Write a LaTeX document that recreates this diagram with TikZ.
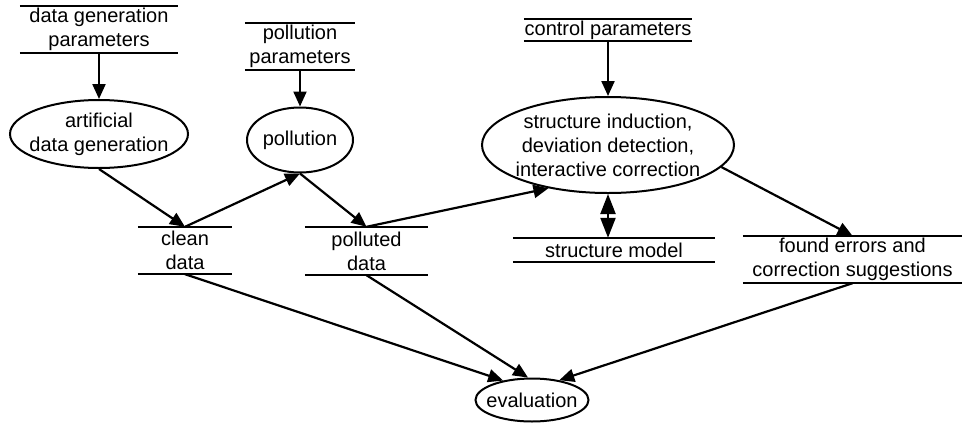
\documentclass[tikz,border=0pt]{standalone}
\usepackage{fontspec}
\setmainfont{Liberation Sans}
\usetikzlibrary{shapes.geometric,arrows.meta}

\begin{document}
\begin{tikzpicture}[x = 1pt, y = -1pt,
    font = \fontsize{20}{24}\selectfont,
    store/.style = {align = center, inner sep = 0pt},
    proc/.style  = {draw, ellipse, line width = 2pt, align = center, inner xsep = -10pt, inner ysep = -4pt},
    flow/.style  = {line width = 2.2pt, -{Triangle[length = 15pt, width = 13pt]}}]

    \useasboundingbox (0, 0) rectangle (963, 426);

    % data stores
    \node [store, minimum width = 158, minimum height = 47] (genpar)   at (99, 29.5)   {data generation\\parameters};
    \node [store, minimum width = 110, minimum height = 47] (polpar)   at (300, 46.5)  {pollution\\parameters};
    \node [store, minimum width = 168, minimum height = 22] (ctrlpar)  at (608, 30)    {control parameters};
    \node [store, minimum width = 94,  minimum height = 47] (clean)    at (185, 250.5) {clean\\data};
    \node [store, minimum width = 123, minimum height = 48] (polluted) at (366.5, 251) {polluted\\data};
    \node [store, minimum width = 202, minimum height = 24] (struct)   at (614, 250)   {structure model};
    \node [store, minimum width = 219, minimum height = 47] (found)    at (852.5, 259.5) {found errors and\\correction suggestions};

    \foreach \n in {genpar, polpar, ctrlpar, clean, polluted, struct, found}
        \draw [line width = 1.6pt] (\n.north west) -- (\n.north east) (\n.south west) -- (\n.south east);

    % processes
    \node [proc, minimum width = 178, minimum height = 68] (gen)       at (99, 134)  {artificial\\data generation};
    \node [proc, minimum width = 106, minimum height = 65] (pollution) at (300, 140) {pollution};
    \node [proc, minimum width = 252, minimum height = 96] (induce)    at (608, 145) {structure induction,\\deviation detection,\\interactive correction};
    \node [proc, minimum width = 113, minimum height = 43] (eval)      at (532, 400) {evaluation};

    % flows
    \draw [flow] (genpar) -- (gen);
    \draw [flow] (polpar) -- (pollution);
    \draw [flow] (ctrlpar) -- (induce);
    \draw [flow] (gen.south) -- (clean.north);
    \draw [flow] (clean.north) -- (pollution.south);
    \draw [flow] (pollution.south) -- (polluted.north);
    \draw [flow] (polluted.north) -- (induce.-144);
    \draw [flow] (induce.-11) -- (found.north);
    \draw [line width = 2.2pt, {Triangle[length = 20pt, width = 15pt]}-{Triangle[length = 20pt, width = 15pt]}]
        (induce.south) -- (induce.south |- struct.north);
    \draw [flow] (clean.south) -- (eval.146);
    \draw [flow] (polluted.south) -- (eval.100);
    \draw [flow] (found.south) -- (eval.36);

\end{tikzpicture}
\end{document}
